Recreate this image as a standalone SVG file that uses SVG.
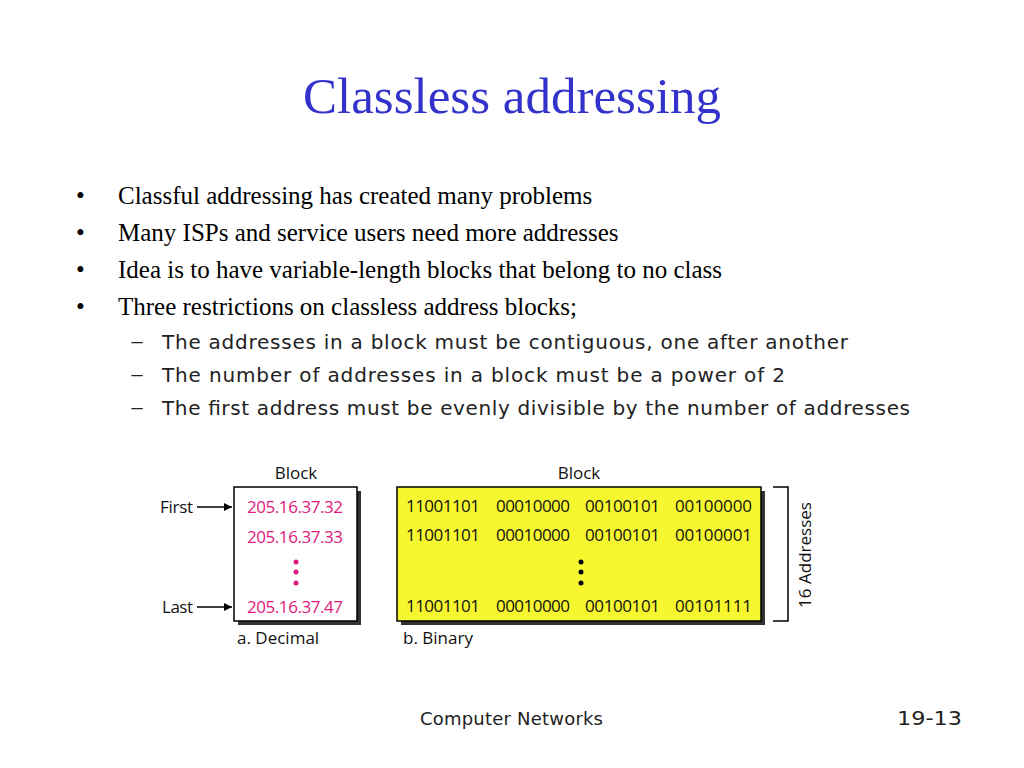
<svg xmlns="http://www.w3.org/2000/svg" width="1024" height="768" viewBox="0 0 1024 768">
<defs>
<style>
.title{font-family:"Liberation Serif",serif;font-size:51px;fill:#3333cc}
.b{font-family:"Liberation Serif",serif;font-size:25px;fill:#000}
.s{font-family:"DejaVu Sans",sans-serif;font-size:20px;fill:#222}
.f{font-family:"DejaVu Sans",sans-serif;font-size:18px;fill:#222}
.d{font-family:"Open Sans","Liberation Sans",sans-serif;font-size:17px;fill:#111}
.pk{font-family:"Open Sans","Liberation Sans",sans-serif;font-size:17px;fill:#e0197d}
.bn{font-family:"Open Sans","Liberation Sans",sans-serif;font-size:17px;fill:#111}
</style>
<marker id="ah" viewBox="0 0 10 10" refX="10" refY="5" markerWidth="10" markerHeight="8" markerUnits="userSpaceOnUse" orient="auto">
<path d="M0,0 L10,5 L0,10 Z" fill="#000"/>
</marker>
</defs>
<rect width="1024" height="768" fill="#fff"/>
<text class="title" x="512" y="113" text-anchor="middle">Classless addressing</text>
<g id="bullets">
<text class="b" x="76" y="204">•</text>
<text class="b" x="118" y="204">Classful addressing has created many problems</text>
<text class="b" x="76" y="241">•</text>
<text class="b" x="118" y="241">Many ISPs and service users need more addresses</text>
<text class="b" x="76" y="278">•</text>
<text class="b" x="118" y="278">Idea is to have variable-length blocks that belong to no class</text>
<text class="b" x="76" y="315">•</text>
<text class="b" x="118" y="315">Three restrictions on classless address blocks;</text>
<text class="s" x="130" y="348" textLength="14" lengthAdjust="spacingAndGlyphs">–</text>
<text class="s" x="162" y="349" textLength="686" lengthAdjust="spacing">The addresses in a block must be contiguous, one after another</text>
<text class="s" x="130" y="381" textLength="14" lengthAdjust="spacingAndGlyphs">–</text>
<text class="s" x="162" y="382" textLength="623" lengthAdjust="spacing">The number of addresses in a block must be a power of 2</text>
<text class="s" x="130" y="414" textLength="14" lengthAdjust="spacingAndGlyphs">–</text>
<text class="s" x="162" y="415" textLength="748" lengthAdjust="spacing">The first address must be evenly divisible by the number of addresses</text>
</g>
<g id="decimal">
<text class="d" x="296" y="479" text-anchor="middle">Block</text>
<rect x="238" y="491" width="123" height="134" fill="#333"/>
<rect x="234" y="487" width="123" height="134" fill="#fff" stroke="#000" stroke-width="1.5"/>
<text class="pk" x="247" y="513" textLength="96">205.16.37.32</text>
<text class="pk" x="247" y="543" textLength="96">205.16.37.33</text>
<circle cx="296" cy="562" r="2.5" fill="#e0197d"/>
<circle cx="296" cy="572" r="2.5" fill="#e0197d"/>
<circle cx="296" cy="583" r="2.5" fill="#e0197d"/>
<text class="pk" x="247" y="613" textLength="96">205.16.37.47</text>
<text class="d" x="237" y="644">a. Decimal</text>
</g>
<g id="labels">
<text class="d" x="160" y="513" textLength="33">First</text>
<text class="d" x="162" y="613" textLength="31">Last</text>
</g>
<g id="binary">
<text class="d" x="579" y="479" text-anchor="middle">Block</text>
<rect x="401" y="491" width="364" height="134" fill="#333"/>
<rect x="397" y="487" width="364" height="134" fill="#f7f72f" stroke="#000" stroke-width="1.5"/>
<g class="bn">
<text x="406" y="512" textLength="74">11001101</text>
<text x="496" y="512" textLength="74">00010000</text>
<text x="585" y="512" textLength="75">00100101</text>
<text x="675" y="512" textLength="77">00100000</text>
<text x="406" y="541" textLength="74">11001101</text>
<text x="496" y="541" textLength="74">00010000</text>
<text x="585" y="541" textLength="75">00100101</text>
<text x="675" y="541" textLength="77">00100001</text>
<text x="406" y="612" textLength="74">11001101</text>
<text x="496" y="612" textLength="74">00010000</text>
<text x="585" y="612" textLength="75">00100101</text>
<text x="675" y="612" textLength="77">00101111</text>
</g>
<circle cx="581" cy="562" r="2.5" fill="#000"/>
<circle cx="581" cy="572" r="2.5" fill="#000"/>
<circle cx="581" cy="583" r="2.5" fill="#000"/>
<text class="d" x="403" y="644">b. Binary</text>
<path d="M773 487 H788 V621 H773" fill="none" stroke="#000" stroke-width="1.5"/>
<text class="d" transform="translate(811,555) rotate(-90)" text-anchor="middle">16 Addresses</text>
</g>
<g id="connectors">
<line x1="197" y1="507" x2="232" y2="507" stroke="#000" stroke-width="1.5" marker-end="url(#ah)"/>
<line x1="197" y1="607" x2="232" y2="607" stroke="#000" stroke-width="1.5" marker-end="url(#ah)"/>
</g>
<g id="footer">
<text class="f" x="420" y="725" textLength="183">Computer Networks</text>
<text class="f" x="897" y="725" textLength="65" lengthAdjust="spacingAndGlyphs" style="font-size:19px">19-13</text>
</g>
</svg>
